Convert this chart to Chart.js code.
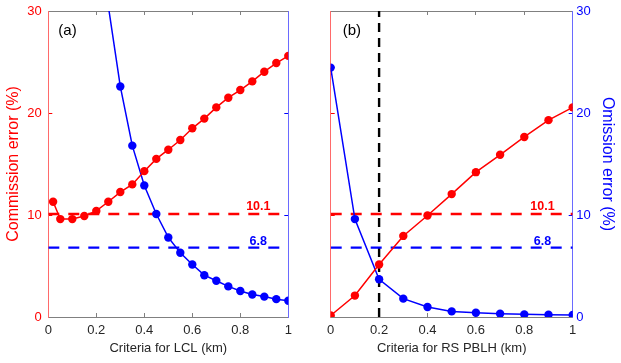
<!DOCTYPE html>
<html lang="en">
<head>
<meta charset="utf-8">
<title>Commission and omission error</title>
<script src="https://cdn.jsdelivr.net/npm/chart.js@4.4.0/dist/chart.umd.min.js"></script>
<style>
  body { margin: 0; background: #fff; }
  #wrap { position: relative; width: 621px; height: 363px; }
  canvas { position: absolute; top: 0; }
  #chartA { left: 0; }
  #chartB { left: 305px; }
</style>
</head>
<body>
<div id="wrap">
  <canvas id="chartA" width="305" height="363"></canvas>
  <canvas id="chartB" width="316" height="363"></canvas>
</div>
<script>
// Données
const lclCriteria = [0.02, 0.05, 0.10, 0.15, 0.20, 0.25, 0.30, 0.35, 0.40, 0.45, 0.50,
  0.55, 0.60, 0.65, 0.70, 0.75, 0.80, 0.85, 0.90, 0.95, 1.00];
const lclCommission = [11.3, 9.6, 9.6, 9.9, 10.4, 11.3, 12.25, 13.0, 14.3, 15.5, 16.4,
  17.35, 18.5, 19.45, 20.55, 21.5, 22.25, 23.1, 24.05, 24.9, 25.6];
// les premières valeurs sont hors cadre (> 30 %)
const lclOmission = [null, null, null, null, null, 30.5, 22.6, 16.8, 12.9, 10.1, 7.8,
  6.3, 5.15, 4.1, 3.55, 3.0, 2.55, 2.2, 2.0, 1.75, 1.6];

const pblhCriteria = [0, 0.1, 0.2, 0.3, 0.4, 0.5, 0.6, 0.7, 0.8, 0.9, 1.0];
const pblhCommission = [0.15, 2.1, 5.15, 7.95, 9.95, 12.05, 14.2, 15.9, 17.65, 19.3, 20.55];
const pblhOmission = [24.45, 9.6, 3.7, 1.8, 0.98, 0.55, 0.42, 0.32, 0.26, 0.23, 0.2];

const commissionRef = 10.1;
const omissionRef = 6.8;
const pblhChoice = 0.2;

const xTicks = [0, 0.2, 0.4, 0.6, 0.8, 1];
const yTicks = [0, 10, 20, 30];

const RED = '#ff0000';
const BLUE = '#0000ff';
const TEXT = '#262626';
const FONT = 'Arial, "Liberation Sans", sans-serif';

Chart.defaults.font.family = FONT;
Chart.defaults.animation = false;

const toPoints = (xs, ys) => xs.map((x, i) => ({ x: x, y: ys[i] }));

// Texte libre : (a)/(b) et valeurs des lignes de référence
const annotations = {
  id: 'annotations',
  afterDatasetsDraw(chart, args, opts) {
    const { ctx, chartArea } = chart;
    const x = chart.scales.x;
    const y = chart.scales.yL;
    ctx.save();
    ctx.font = '15px ' + FONT;
    ctx.fillStyle = '#000';
    ctx.textAlign = 'left';
    ctx.textBaseline = 'middle';
    ctx.fillText(opts.panel, chartArea.left + opts.panelDx, chartArea.top + 20);

    ctx.font = 'bold 12.5px ' + FONT;
    ctx.textAlign = 'center';
    ctx.textBaseline = 'alphabetic';
    ctx.fillStyle = RED;
    ctx.fillText(String(commissionRef), x.getPixelForValue(0.875), y.getPixelForValue(commissionRef) - 4);
    ctx.fillStyle = BLUE;
    ctx.fillText(String(omissionRef), x.getPixelForValue(0.875), y.getPixelForValue(omissionRef) - 3);
    ctx.restore();
  }
};

function seriesDataset(xs, ys, color, axis) {
  return {
    data: toPoints(xs, ys),
    yAxisID: axis,
    borderColor: color,
    backgroundColor: color,
    borderWidth: 1.5,
    pointRadius: 4.2,
    pointBorderWidth: 0,
    pointBackgroundColor: color
  };
}

function refDataset(points, color, dash) {
  return {
    data: points,
    yAxisID: 'yL',
    borderColor: color,
    borderWidth: 2.4,
    borderDash: dash,
    pointRadius: 0
  };
}

function makePanel(id, cfg) {
  // le premier jeu est dessiné au-dessus des autres
  const datasets = [
    seriesDataset(cfg.xs, cfg.commission, RED, 'yL'),
    seriesDataset(cfg.xs, cfg.omission, BLUE, 'yR'),
    refDataset([{ x: 0, y: commissionRef }, { x: 1, y: commissionRef }], RED, [11, 9]),
    refDataset([{ x: 0, y: omissionRef }, { x: 1, y: omissionRef }], BLUE, [11, 9])
  ];
  if (cfg.vline !== undefined) {
    datasets.push(refDataset([{ x: cfg.vline, y: 0 }, { x: cfg.vline, y: 30 }], '#000', [9, 6]));
  }

  const setXTicks = s => { s.ticks = xTicks.map(v => ({ value: v })); };
  const setYTicks = s => { s.ticks = yTicks.map(v => ({ value: v })); };
  // graduations vers l'intérieur, comme MATLAB
  const inward = color => ({ drawOnChartArea: false, drawTicks: true, tickLength: -4, tickColor: color, tickWidth: 1 });
  // largeur fixe des axes verticaux, sans marge ajoutée en haut / en bas
  const fixWidth = w => s => { s.width = w; s.paddingTop = 0; s.paddingBottom = 0; };

  return new Chart(document.getElementById(id), {
    type: 'line',
    data: { datasets: datasets },
    plugins: [annotations],
    options: {
      responsive: false,
      layout: { padding: 0 },
      plugins: {
        legend: { display: false },
        tooltip: { enabled: false },
        annotations: { panel: cfg.panel, panelDx: cfg.panelDx }
      },
      scales: {
        x: {
          type: 'linear', position: 'bottom', min: 0, max: 1,
          afterBuildTicks: setXTicks,
          ticks: { color: TEXT, font: { size: 13 }, padding: 10, maxRotation: 0, callback: v => String(v) },
          grid: inward('#808080'),
          border: { color: '#808080', width: 1 },
          title: { display: true, text: cfg.xTitle, color: TEXT, font: { size: 13 }, padding: { top: 0, bottom: 7 } },
          afterFit: s => { s.height = 46; }
        },
        xTop: {
          type: 'linear', position: 'top', min: 0, max: 1,
          afterBuildTicks: setXTicks,
          ticks: { display: false },
          grid: inward('#808080'),
          border: { color: '#808080', width: 1 },
          afterFit: s => { s.height = 11; }
        },
        yL: {
          type: 'linear', position: 'left', min: 0, max: 30,
          afterBuildTicks: setYTicks,
          ticks: { display: cfg.leftLabels, color: RED, font: { size: 13 }, padding: 10.5 },
          grid: inward(RED),
          border: { color: '#ff6a6a', width: 1 },
          title: { display: cfg.leftLabels, text: 'Commission error (%)', color: RED, font: { size: 16 }, padding: { top: 4.4, bottom: 0 } },
          afterFit: fixWidth(cfg.leftWidth)
        },
        yR: {
          type: 'linear', position: 'right', min: 0, max: 30,
          afterBuildTicks: setYTicks,
          ticks: { display: !cfg.leftLabels, color: BLUE, font: { size: 13 }, padding: 7.5 },
          grid: inward(BLUE),
          border: { color: '#6a6aff', width: 1 },
          title: { display: !cfg.leftLabels, text: 'Omission error (%)', color: BLUE, font: { size: 16 }, padding: { top: 4.4, bottom: 0 } },
          afterFit: fixWidth(cfg.rightWidth)
        }
      }
    }
  });
}

makePanel('chartA', {
  panel: '(a)', panelDx: 10,
  xs: lclCriteria, commission: lclCommission, omission: lclOmission,
  xTitle: 'Criteria for LCL (km)',
  leftLabels: true, leftWidth: 48.3, rightWidth: 16.7
});

makePanel('chartB', {
  panel: '(b)', panelDx: 12,
  xs: pblhCriteria, commission: pblhCommission, omission: pblhOmission,
  xTitle: 'Criteria for RS PBLH (km)', vline: pblhChoice,
  leftLabels: false, leftWidth: 25.7, rightWidth: 48.3
});
</script>
</body>
</html>
